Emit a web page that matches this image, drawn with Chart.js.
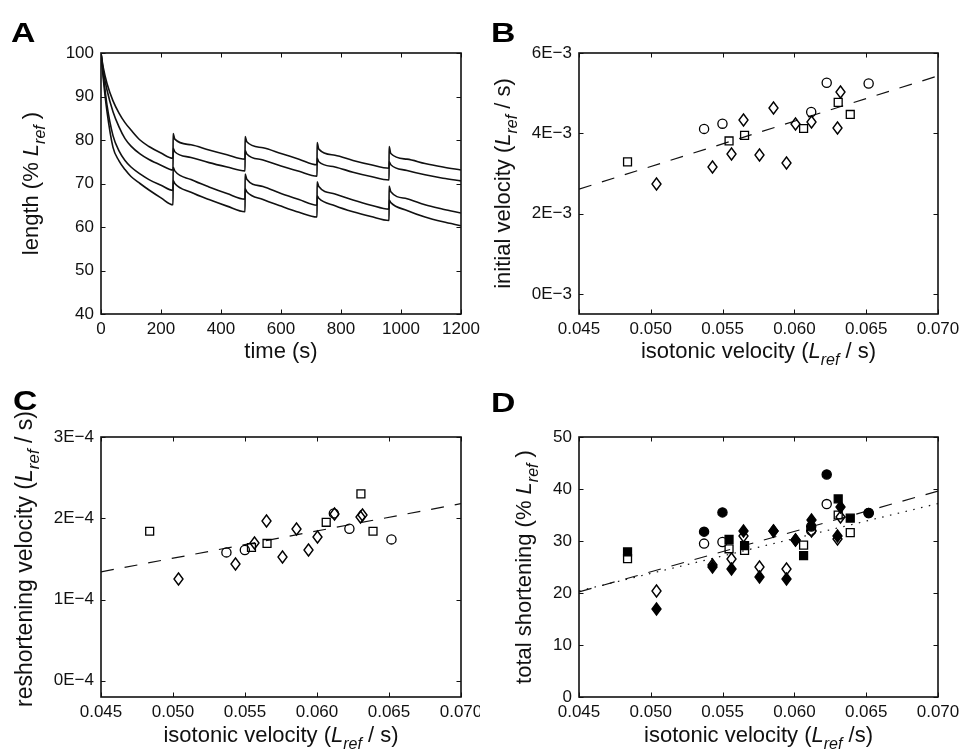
<!DOCTYPE html>
<html><head><meta charset="utf-8">
<script src="https://cdn.jsdelivr.net/npm/chart.js@4.4.1/dist/chart.umd.min.js"></script>
<style>
html,body{margin:0;padding:0;background:#fff;}
#wrap{position:relative;width:961px;height:755px;background:#fff;overflow:hidden;}
canvas{position:absolute;}
</style></head><body>
<div id="wrap">
<canvas id="cA" width="480" height="375" style="left:0;top:0;width:480px;height:375px"></canvas>
<canvas id="cB" width="481" height="375" style="left:480px;top:0;width:481px;height:375px"></canvas>
<canvas id="cC" width="480" height="380" style="left:0;top:375px;width:480px;height:380px"></canvas>
<canvas id="cD" width="481" height="380" style="left:480px;top:375px;width:481px;height:380px"></canvas>
</div>
<script>
// ---------- Panel A data ----------
const timeS = [0,8,20,40,60,80,100,130,160,200,240, 240.5,246,300,360,420,480, 480.5,486,540,600,660,720, 720.5,726,780,840,900,960, 960.5,966,1020,1080,1140,1200];
const length1 = [100,96.5,93,89,86.2,84,82.3,80,78.5,77,75.8, 81.5,80.2,78.9,77.7,76.6,75.6, 80.8,79.6,78.2,76.9,75.6,74.3, 79.4,77.9,76.5,75.3,74.3,73.5, 78.5,76.9,75.6,74.6,73.8,73.1];
const length2 = [100,95.7,91.5,86.5,83,80.3,78.6,76.8,75.5,74.2,73.1, 78.1,77.3,76,74.8,73.8,72.9, 77.6,76.8,75.4,74,72.8,71.7, 75.8,75,73.8,72.6,71.6,70.8, 75,74.3,73,72,71.2,70.6];
const length3 = [100,94.8,88,81,77.5,75.3,73.8,72.2,70.9,69.6,68.4, 73.7,72.9,70.9,69.2,67.7,66.4, 72.2,71,69.3,67.7,66.3,65.0, 70.4,69.3,67.6,66.2,65,64.1, 69.4,68.1,66.5,65.1,64.1,63.2];
const length4 = [100,93.8,86.5,78.3,75.2,73.2,71.6,70,68.5,66.7,65.1, 70.7,70,68,66.3,64.8,63.5, 68.8,68.1,66.3,64.8,63.4,62.3, 67.2,66.6,64.9,63.5,62.4,61.5, 66.2,65.6,63.8,62.3,61.2,60.3];
const aXTicks = [0,200,400,600,800,1000,1200];
const aYTicks = [40,50,60,70,80,90,100];

// ---------- isotonic velocity (shared x) ----------
const isoSquare  = [0.04838,0.05545,0.05653,0.06064,0.06305,0.06389];
const isoCircle  = [0.05371,0.05499,0.06117,0.06225,0.06517];
const isoDiamond = [0.05038,0.05431,0.05564,0.05649,0.05760,0.05855,0.05943,0.06006,0.06121,0.06300,0.06318];
const velXTicks = [0.045,0.050,0.055,0.060,0.065,0.070];
const velXLabels = ['0.045','0.050','0.055','0.060','0.065','0.070'];

// ---------- Panel B: initial velocity ----------
const initSquare  = [0.00329,0.00381,0.00395,0.00412,0.00477,0.00447];
const initCircle  = [0.00411,0.00424,0.00453,0.00526,0.00524];
const initDiamond = [0.00275,0.00315,0.00349,0.00433,0.00345,0.00463,0.00327,0.00424,0.00428,0.00412,0.00503];
const initFitX = [0.045,0.070];
const initFitY = [0.00261,0.00543];
const bYTicks = [0,0.002,0.004,0.006];
const bYLabels = ['0E\u22123','2E\u22123','4E\u22123','6E\u22123'];

// ---------- Panel C: reshortening velocity ----------
const reshSquare  = [1.84e-4,1.64e-4,1.69e-4,1.95e-4,2.30e-4,1.84e-4];
const reshCircle  = [1.58e-4,1.61e-4,2.06e-4,1.87e-4,1.74e-4];
const reshDiamond = [1.25e-4,1.44e-4,1.69e-4,1.97e-4,1.52e-4,1.87e-4,1.61e-4,1.77e-4,2.05e-4,2.01e-4,2.04e-4];
const reshFitX = [0.045,0.070];
const reshFitY = [1.34e-4,2.18e-4];
const cYTicks = [0,1e-4,2e-4,3e-4];
const cYLabels = ['0E\u22124','1E\u22124','2E\u22124','3E\u22124'];

// ---------- Panel D: total shortening ----------
const totOpenSquare   = [26.6,28.5,28.2,29.2,35.0,31.6];
const totFilledSquare = [27.9,30.3,29.1,27.2,38.1,34.4];
const totOpenCircle   = [29.5,29.8,32.0,37.1,35.4];
const totFilledCircle = [31.8,35.5,32.8,42.8,35.4];
const totOpenDiamond   = [20.3,25.3,26.6,31.0,25.0,32.0,24.6,30.1,31.9,30.3,34.7];
const totFilledDiamond = [17.0,25.0,24.6,31.9,23.1,32.0,22.7,30.1,34.1,31.0,36.5];
const totFitX = [0.045,0.070];
const totDashY = [20.2,39.6];
const totDotY  = [20.4,37.2];
const dYTicks = [0,10,20,30,40,50];

// ---------- helpers ----------
const FONT = '"Liberation Sans", Arial, Helvetica, sans-serif';
const INK = '#111';
const pts = (xs, ys) => xs.map((x, i) => ({x, y: ys[i]}));

function makeDiamond(w, h, filled) {
  const pad = 2;
  const c = document.createElement('canvas');
  c.width = w + pad * 2; c.height = h + pad * 2;
  const g = c.getContext('2d');
  g.beginPath();
  g.moveTo(c.width / 2, pad);
  g.lineTo(c.width - pad, c.height / 2);
  g.lineTo(c.width / 2, c.height - pad);
  g.lineTo(pad, c.height / 2);
  g.closePath();
  if (filled) { g.fillStyle = '#000'; g.fill(); }
  g.lineWidth = 1.4; g.strokeStyle = '#000'; g.stroke();
  return c;
}
const diamondOpen = makeDiamond(9, 12, false);
const diamondFilled = makeDiamond(9, 12, true);

function drawRich(ctx, segs, x, y, rotate, size) {
  ctx.save();
  ctx.translate(x, y);
  if (rotate) ctx.rotate(-Math.PI / 2);
  ctx.fillStyle = INK;
  ctx.textBaseline = 'alphabetic';
  const fonts = segs.map(s => (s.it ? 'italic ' : '') + (s.sub ? Math.round(size * 0.72) : size) + 'px ' + FONT);
  let total = 0;
  const widths = segs.map((s, i) => { ctx.font = fonts[i]; const w = ctx.measureText(s.t).width; total += w; return w; });
  let cx = -total / 2;
  segs.forEach((s, i) => { ctx.font = fonts[i]; ctx.fillText(s.t, cx, s.sub ? size * 0.32 : 0); cx += widths[i]; });
  ctx.restore();
}

const framePlugin = {
  id: 'frame',
  beforeDatasetsDraw(chart) {
    chart.ctx.imageSmoothingEnabled = false;
  },
  afterDatasetsDraw(chart, args, o) {
    const {ctx, chartArea: a} = chart;
    ctx.imageSmoothingEnabled = true;
    const xs = chart.scales.x, ys = chart.scales.y;
    ctx.save();
    ctx.strokeStyle = INK;
    ctx.lineWidth = 1;
    const tl = 4.5;
    ctx.beginPath();
    xs.ticks.forEach(t => {
      const p = Math.round(xs.getPixelForValue(t.value)) + 0.5;
      ctx.moveTo(p, a.bottom); ctx.lineTo(p, a.bottom - tl);
      ctx.moveTo(p, a.top); ctx.lineTo(p, a.top + tl);
    });
    ys.ticks.forEach(t => {
      const p = Math.round(ys.getPixelForValue(t.value)) + 0.5;
      ctx.moveTo(a.left, p); ctx.lineTo(a.left + tl, p);
      ctx.moveTo(a.right, p); ctx.lineTo(a.right - tl, p);
    });
    ctx.stroke();
    ctx.lineWidth = 1.6;
    ctx.strokeRect(a.left, a.top, a.right - a.left, a.bottom - a.top);
    // titles
    drawRich(ctx, o.xTitle, (a.left + a.right) / 2, o.xTitleY, false, 22);
    drawRich(ctx, o.yTitle, o.yTitleX, (a.top + a.bottom) / 2 + (o.yShift || 0), true, o.ySize || 22);
    // panel letter
    ctx.save();
    ctx.translate(o.letterX, o.letterY);
    ctx.scale(1.25, 1);
    ctx.font = 'bold 27px ' + FONT;
    ctx.fillStyle = '#000';
    ctx.fillText(o.letter, 0, 0);
    ctx.restore();
    ctx.restore();
  }
};

function makeScales(box, W, H, xr, yr) {
  const tickFont = {family: FONT, size: 17};
  return {
    x: {
      type: 'linear', min: xr.min, max: xr.max,
      afterBuildTicks: s => { s.ticks = xr.ticks.map(v => ({value: v})); },
      afterFit: s => { s.height = H - box.bottom; s.paddingLeft = 0; s.paddingRight = 0; },
      grid: {display: false, drawTicks: false}, border: {display: false},
      ticks: {padding: 5, font: tickFont, color: INK, maxRotation: 0, autoSkip: false,
              callback: (v, i) => xr.labels[i]}
    },
    y: {
      type: 'linear', min: yr.min, max: yr.max,
      afterBuildTicks: s => { s.ticks = yr.ticks.map(v => ({value: v})); },
      afterFit: s => { s.width = box.left; s.paddingTop = 0; s.paddingBottom = 0; },
      grid: {display: false, drawTicks: false}, border: {display: false},
      ticks: {padding: 7, font: tickFont, color: INK, autoSkip: false,
              callback: (v, i) => yr.labels[i]}
    }
  };
}

function baseOptions(box, W, H, xr, yr, frame) {
  return {
    responsive: false, animation: false, devicePixelRatio: 1,
    layout: {padding: {left: 0, top: box.top, right: W - box.right, bottom: 0}},
    plugins: {legend: {display: false}, tooltip: {enabled: false}, frame},
    scales: makeScales(box, W, H, xr, yr)
  };
}

const subX = [{t: 'isotonic velocity ('}, {t: 'L', it: true}, {t: 'ref', it: true, sub: true}, {t: ' / s)'}];

// ---------- Panel A ----------
const lineDs = (vals) => ({
  data: pts(timeS, vals), showLine: true, pointRadius: 0, borderColor: INK,
  borderWidth: 1.6, cubicInterpolationMode: 'monotone', fill: false
});
new Chart(document.getElementById('cA'), {
  type: 'scatter',
  data: {datasets: [lineDs(length1), lineDs(length2), lineDs(length3), lineDs(length4)]},
  options: baseOptions({left: 101, top: 53, right: 461, bottom: 314}, 480, 375,
    {min: 0, max: 1200, ticks: aXTicks, labels: aXTicks.map(String)},
    {min: 40, max: 100, ticks: aYTicks, labels: aYTicks.map(String)},
    {letter: 'A', letterX: 11, letterY: 42, xTitleY: 358, yTitleX: 37.5,
     xTitle: [{t: 'time (s)'}],
     yTitle: [{t: 'length (% '}, {t: 'L', it: true}, {t: 'ref', it: true, sub: true}, {t: ' )'}]}),
  plugins: [framePlugin]
});

// ---------- scatter helpers ----------
const sq = (xs, ys, filled) => ({data: pts(xs, ys), pointStyle: 'rect', pointRadius: 5.6, borderWidth: 1.3,
  borderColor: '#000', backgroundColor: filled ? '#000' : 'rgba(0,0,0,0)'});
const ci = (xs, ys, filled) => ({data: pts(xs, ys), pointStyle: 'circle', pointRadius: 4.6, borderWidth: 1.3,
  borderColor: '#000', backgroundColor: filled ? '#000' : 'rgba(0,0,0,0)'});
const di = (xs, ys, filled) => ({data: pts(xs, ys), pointStyle: filled ? diamondFilled : diamondOpen, pointRadius: 6});
const fit = (xs, ys, dash) => ({data: pts(xs, ys), showLine: true, pointRadius: 0, borderColor: INK,
  borderWidth: 1.2, borderDash: dash, fill: false});

// ---------- Panel B ----------
new Chart(document.getElementById('cB'), {
  type: 'scatter',
  data: {datasets: [ci(isoCircle, initCircle), sq(isoSquare, initSquare), di(isoDiamond, initDiamond),
    fit(initFitX, initFitY, [13, 11])]},
  options: baseOptions({left: 99, top: 53, right: 458, bottom: 314}, 481, 375,
    {min: 0.045, max: 0.070, ticks: velXTicks, labels: velXLabels},
    {min: -0.0005, max: 0.006, ticks: bYTicks, labels: bYLabels},
    {letter: 'B', letterX: 11, letterY: 42, xTitleY: 358, yTitleX: 30,
     xTitle: subX,
     yTitle: [{t: 'initial velocity ('}, {t: 'L', it: true}, {t: 'ref', it: true, sub: true}, {t: ' / s)'}]}),
  plugins: [framePlugin]
});

// ---------- Panel C ----------
new Chart(document.getElementById('cC'), {
  type: 'scatter',
  data: {datasets: [ci(isoCircle, reshCircle), sq(isoSquare, reshSquare), di(isoDiamond, reshDiamond),
    fit(reshFitX, reshFitY, [13, 11])]},
  options: baseOptions({left: 101, top: 62, right: 461, bottom: 322}, 480, 380,
    {min: 0.045, max: 0.070, ticks: velXTicks, labels: velXLabels},
    {min: -0.2e-4, max: 3e-4, ticks: cYTicks, labels: cYLabels},
    {letter: 'C', letterX: 13, letterY: 35, xTitleY: 367, yTitleX: 32, yShift: -8, ySize: 23,
     xTitle: subX,
     yTitle: [{t: 'reshortening velocity ('}, {t: 'L', it: true}, {t: 'ref', it: true, sub: true}, {t: ' / s)'}]}),
  plugins: [framePlugin]
});

// ---------- Panel D ----------
new Chart(document.getElementById('cD'), {
  type: 'scatter',
  data: {datasets: [
    sq(isoSquare, totFilledSquare, true), ci(isoCircle, totFilledCircle, true), di(isoDiamond, totFilledDiamond, true),
    sq(isoSquare, totOpenSquare, false), ci(isoCircle, totOpenCircle, false), di(isoDiamond, totOpenDiamond, false),
    fit(totFitX, totDashY, [13, 11]), fit(totFitX, totDotY, [1.5, 6.5])]},
  options: baseOptions({left: 99, top: 62, right: 458, bottom: 322}, 481, 380,
    {min: 0.045, max: 0.070, ticks: velXTicks, labels: velXLabels},
    {min: 0, max: 50, ticks: dYTicks, labels: dYTicks.map(String)},
    {letter: 'D', letterX: 11, letterY: 37, xTitleY: 367, yTitleX: 51,
     xTitle: [{t: 'isotonic velocity ('}, {t: 'L', it: true}, {t: 'ref', it: true, sub: true}, {t: ' /s)'}],
     yTitle: [{t: 'total shortening (% '}, {t: 'L', it: true}, {t: 'ref', it: true, sub: true}, {t: ' )'}]}),
  plugins: [framePlugin]
});
</script>
</body></html>
